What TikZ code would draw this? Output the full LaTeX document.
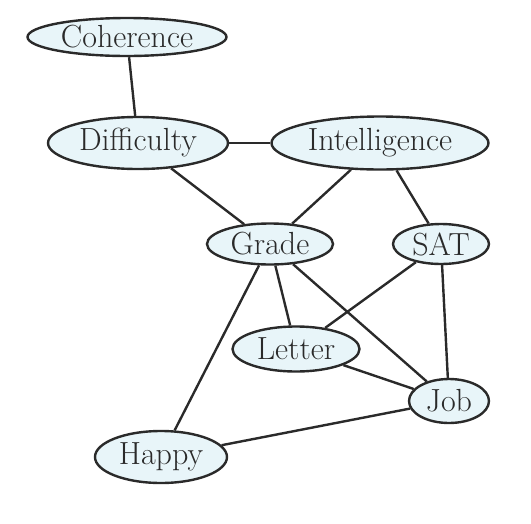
\documentclass[tikz,border=0pt]{standalone}
\usepackage{tikz}
\usetikzlibrary{shapes.geometric}
\definecolor{nodefill}{HTML}{E8F5F9}
\definecolor{inkgray}{HTML}{2A2A2A}

\begin{document}
\begin{tikzpicture}[x=1pt, y=-1pt,
  var/.style={ellipse, draw=inkgray, line width=2.4pt, fill=nodefill,
    inner sep=0pt, text=inkgray, font=\fontsize{32}{38}\selectfont},
  edge/.style={draw=inkgray, line width=2.4pt}]
  \useasboundingbox (0,0) rectangle (531,523);

  % Variables
  \node[var, minimum width=199pt, minimum height=38pt] (coh) at (127,37) {Coherence};
  \node[var, minimum width=180pt, minimum height=52pt] (dif) at (138,143) {Difficulty};
  \node[var, minimum width=217pt, minimum height=53pt] (int) at (380,143) {Intelligence};
  \node[var, minimum width=126pt, minimum height=41pt] (gra) at (270,244) {Grade};
  \node[var, minimum width=96pt, minimum height=40pt] (sat) at (441,244) {SAT};
  \node[var, minimum width=127pt, minimum height=45pt] (let) at (296,349) {Letter};
  \node[var, minimum width=80pt, minimum height=44pt] (job) at (449,401) {Job};
  \node[var, minimum width=132pt, minimum height=52pt] (hap) at (161,457) {Happy};

  % Edges
  \draw[edge] (coh) -- (dif);
  \draw[edge] (dif) -- (int);
  \draw[edge] (dif) -- (gra);
  \draw[edge] (int) -- (gra);
  \draw[edge] (int) -- (sat);
  \draw[edge] (gra) -- (let);
  \draw[edge] (gra) -- (hap);
  \draw[edge] (gra) -- (job);
  \draw[edge] (sat) -- (let);
  \draw[edge] (sat) -- (job);
  \draw[edge] (let) -- (job);
  \draw[edge] (hap) -- (job);
\end{tikzpicture}
\end{document}
